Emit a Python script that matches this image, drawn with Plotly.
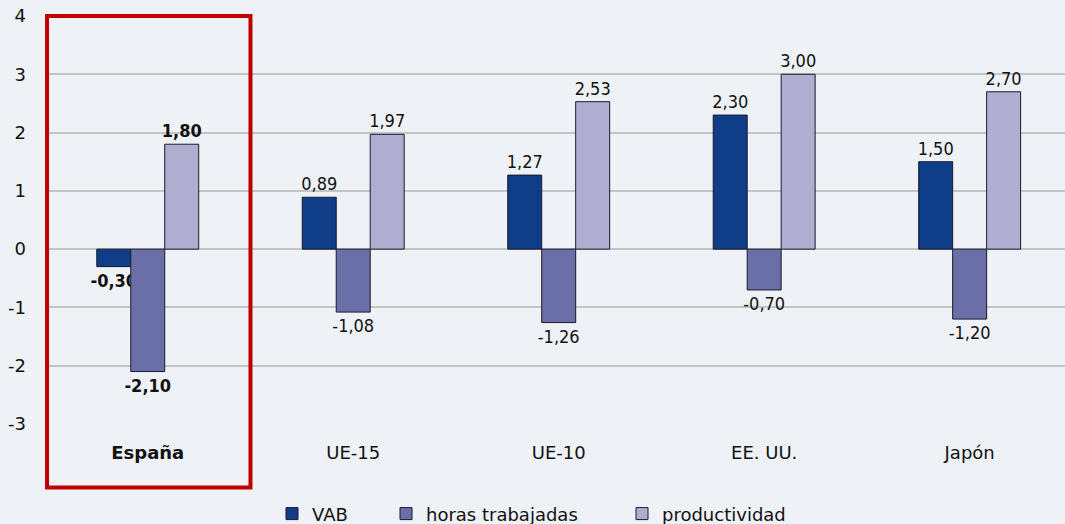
import plotly.graph_objects as go

categories = ["<b>España</b>", "UE-15", "UE-10", "EE. UU.", "Japón"]
vab = [-0.30, 0.89, 1.27, 2.30, 1.50]
horas = [-2.10, -1.08, -1.26, -0.70, -1.20]
productividad = [1.80, 1.97, 2.53, 3.00, 2.70]
series_names = ["VAB", "horas trabajadas", "productividad"]
colors = ["#0f3d87", "#6b6fa8", "#b0aed0"]
y_ticks = [4, 3, 2, 1, 0, -1, -2, -3]


def fmt(values):
    out = []
    for i, v in enumerate(values):
        s = f"{v:.2f}".replace(".", ",")
        out.append(f"<b>{s}</b>" if i == 0 else s)
    return out


font = dict(family="DejaVu Sans", size=18, color="#111111")
valfont = dict(family="DejaVu Sans Condensed, DejaVu Sans", size=18, color="#111111")

fig = go.Figure()
legends = ["legend", "legend2", "legend3"]
for name, vals, col, lg in zip(series_names, [vab, horas, productividad], colors, legends):
    fig.add_trace(go.Bar(
        x=categories, y=vals, name=name,
        marker=dict(color=col, line=dict(color="#1a1a2a", width=1)),
        text=fmt(vals), textposition="outside", constraintext="none",
        textfont=valfont, cliponaxis=False, legend=lg,
    ))

leg_y = -0.175
fig.update_layout(
    width=1065, height=524,
    margin=dict(l=45, r=0, t=16, b=100, autoexpand=False),
    paper_bgcolor="#eef1f6", plot_bgcolor="#eef1f6",
    barmode="group", bargap=0.504, bargroupgap=0,
    font=font,
    showlegend=True,
    legend=dict(orientation="h", x=(272 - 45) / 1020, y=leg_y, xanchor="left", yanchor="top",
                bgcolor="rgba(0,0,0,0)", font=font),
    legend2=dict(orientation="h", x=(386 - 45) / 1020, y=leg_y, xanchor="left", yanchor="top",
                 bgcolor="rgba(0,0,0,0)", font=font),
    legend3=dict(orientation="h", x=(622 - 45) / 1020, y=leg_y, xanchor="left", yanchor="top",
                 bgcolor="rgba(0,0,0,0)", font=font),
    xaxis=dict(range=[-0.5, 4.464], showgrid=False, zeroline=False, showline=False,
               ticks="", ticklabelstandoff=16, tickfont=font),
    yaxis=dict(range=[-3, 4], tickvals=y_ticks, ticktext=[str(t) for t in y_ticks],
               showgrid=True, gridcolor="#c4c4c4", gridwidth=2, zeroline=True,
               zerolinecolor="#c4c4c4", zerolinewidth=2, showline=False,
               ticks="", ticklabelstandoff=18, tickfont=font),
    shapes=[dict(type="rect", xref="x", yref="paper", x0=-0.49, x1=0.5,
                 y0=(524 - 100 - 487.5) / 408, y1=(524 - 100 - 16) / 408,
                 line=dict(color="#c00000", width=4), fillcolor="rgba(0,0,0,0)", layer="above")],
)

fig.write_html("out.html", config={"displayModeBar": False},
               post_script="document.body.style.margin='0';document.body.style.overflow='hidden';")
